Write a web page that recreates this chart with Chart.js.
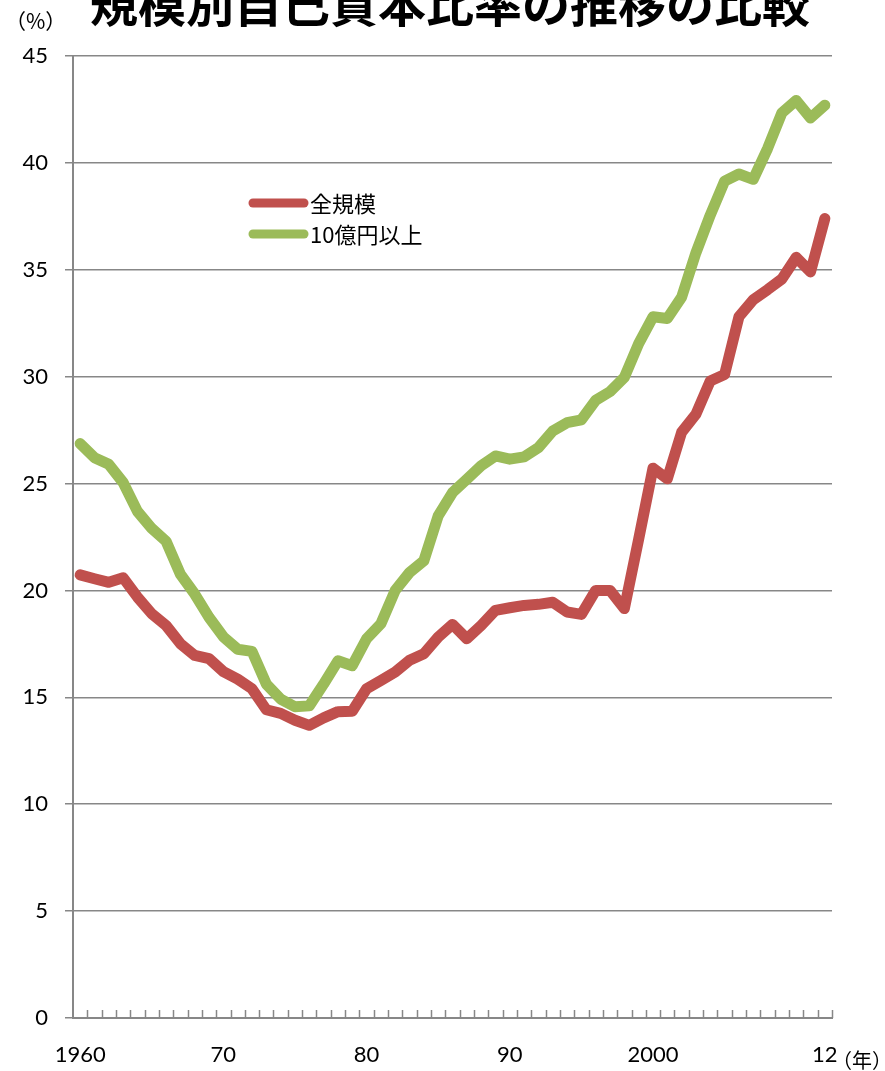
<!DOCTYPE html>
<html lang="ja">
<head>
<meta charset="UTF-8">
<title>規模別自己資本比率の推移の比較</title>
<script src="https://cdn.jsdelivr.net/npm/chart.js"></script>
<style>
  html, body { margin: 0; padding: 0; background: #fff; }
  canvas { display: block; }
</style>
</head>
<body>
<canvas id="myChart" width="885" height="1071"></canvas>
<script>
// 年（1960〜2012）
const years = [
  1960, 1961, 1962, 1963, 1964, 1965, 1966, 1967, 1968, 1969,
  1970, 1971, 1972, 1973, 1974, 1975, 1976, 1977, 1978, 1979,
  1980, 1981, 1982, 1983, 1984, 1985, 1986, 1987, 1988, 1989,
  1990, 1991, 1992, 1993, 1994, 1995, 1996, 1997, 1998, 1999,
  2000, 2001, 2002, 2003, 2004, 2005, 2006, 2007, 2008, 2009,
  2010, 2011, 2012
];

// 全規模（%）
const allSizes = [
  20.73, 20.55, 20.38, 20.59, 19.69, 18.91, 18.36, 17.51, 16.96, 16.81,
  16.20, 15.85, 15.40, 14.42, 14.25, 13.93, 13.69, 14.04, 14.33, 14.35,
  15.40, 15.79, 16.18, 16.73, 17.04, 17.82, 18.41, 17.74, 18.36, 19.07,
  19.19, 19.30, 19.35, 19.45, 18.99, 18.88, 20.00, 20.00, 19.15, 22.40,
  25.72, 25.22, 27.40, 28.25, 29.80, 30.10, 32.80, 33.60, 34.07, 34.57,
  35.58, 34.90, 37.40
];

// 資本金10億円以上（%）
const largeFirms = [
  26.87, 26.21, 25.90, 25.05, 23.70, 22.90, 22.30, 20.76, 19.83, 18.74,
  17.83, 17.25, 17.15, 15.62, 14.92, 14.56, 14.60, 15.62, 16.71, 16.48,
  17.74, 18.44, 20.00, 20.84, 21.39, 23.49, 24.58, 25.20, 25.83, 26.29,
  26.14, 26.25, 26.68, 27.46, 27.85, 27.98, 28.90, 29.30, 29.97, 31.55,
  32.80, 32.72, 33.72, 35.80, 37.56, 39.15, 39.48, 39.23, 40.67, 42.34,
  42.92, 42.10, 42.70
];

// 横軸に表示する目盛ラベル
const tickYears = [1960, 1970, 1980, 1990, 2000, 2012];
const tickTexts = ['1960', '70', '80', '90', '2000', '12'];

const axisGray = '#878787';
const numFont = "Lato, 'Liberation Sans', sans-serif";
const jpFont = "'Noto Sans CJK JP', 'Noto Sans', sans-serif";

// タイトル・単位・凡例・内向き目盛を描くプラグイン
const decorations = {
  id: 'decorations',
  afterDraw(chart) {
    const ctx = chart.ctx;
    const area = chart.chartArea;
    ctx.save();

    // タイトル（上が切れている）
    ctx.fillStyle = '#000';
    ctx.font = 'bold 48px ' + jpFont;
    ctx.textAlign = 'center';
    ctx.textBaseline = 'alphabetic';
    ctx.fillText('規模別自己資本比率の推移の比較', 450, 22);

    // 単位
    ctx.font = '21px ' + jpFont;
    ctx.textAlign = 'left';
    ctx.textBaseline = 'middle';
    ctx.fillText('（%）', 5, 21);
    ctx.font = '20px ' + jpFont;
    ctx.fillText('（年）', 832, 1060);

    // 横軸の内向き目盛
    ctx.strokeStyle = axisGray;
    ctx.lineWidth = 1.5;
    const n = years.length;
    const w = (area.right - area.left) / n;
    ctx.beginPath();
    for (let i = 1; i <= n; i++) {
      const px = Math.round(area.left + i * w) + 0.5;
      ctx.moveTo(px, area.bottom);
      ctx.lineTo(px, area.bottom - 8);
    }
    ctx.stroke();

    // 凡例
    ctx.font = '22px ' + jpFont;
    ctx.textBaseline = 'middle';
    chart.data.datasets.forEach((ds, i) => {
      const y = 203 + i * 31;
      ctx.strokeStyle = ds.borderColor;
      ctx.lineWidth = 9;
      ctx.lineCap = 'round';
      ctx.beginPath();
      ctx.moveTo(253, y);
      ctx.lineTo(304, y);
      ctx.stroke();
      ctx.fillStyle = '#000';
      ctx.fillText(ds.label, 310, y + 1);
    });

    ctx.restore();
  }
};

const ctx = document.getElementById('myChart').getContext('2d');
const myChart = new Chart(ctx, {
  type: 'line',
  data: {
    labels: years,
    datasets: [
      {
        label: '全規模',
        data: allSizes,
        borderColor: '#C0504D',
        borderWidth: 11,
        borderCapStyle: 'round',
        borderJoinStyle: 'round',
        pointRadius: 0,
        tension: 0,
        fill: false,
        order: 2
      },
      {
        label: '10億円以上',
        data: largeFirms,
        borderColor: '#9BBB59',
        borderWidth: 11,
        borderCapStyle: 'round',
        borderJoinStyle: 'round',
        pointRadius: 0,
        tension: 0,
        fill: false,
        order: 1
      }
    ]
  },
  options: {
    responsive: false,
    animation: false,
    events: [],
    layout: { padding: { top: 56, left: 0, right: 53, bottom: 0 } },
    plugins: {
      legend: { display: false },
      title: { display: false },
      tooltip: { enabled: false }
    },
    scales: {
      x: {
        type: 'category',
        offset: true,
        grid: { display: true, drawOnChartArea: false, drawTicks: false },
        border: { display: true, color: axisGray, width: 2 },
        ticks: {
          autoSkip: false,
          maxRotation: 0,
          padding: 24,
          color: '#000',
          font: { family: numFont, size: 22 },
          callback: function (value, index) {
            const k = tickYears.indexOf(years[index]);
            return k >= 0 ? tickTexts[k] : '';
          }
        },
        afterFit: function (scale) { scale.height = 53; }
      },
      y: {
        min: 0,
        max: 45,
        ticks: {
          stepSize: 5,
          padding: 17,
          color: '#000',
          font: { family: numFont, size: 22 }
        },
        grid: { color: axisGray, lineWidth: 1.5, tickLength: 8 },
        border: { display: true, color: axisGray, width: 2 },
        afterFit: function (scale) { scale.width = 73; }
      }
    }
  },
  plugins: [decorations]
});
</script>
</body>
</html>
